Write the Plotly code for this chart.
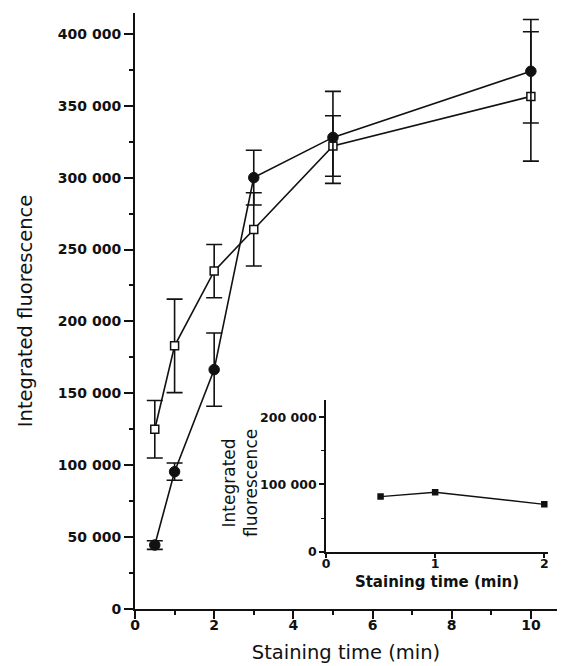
import plotly.graph_objects as go

# ---- data ----
times = [0.5, 1, 2, 3, 5, 10]
filled_vals = [44500, 95500, 166500, 300000, 328000, 374000]
filled_err = [3000, 6000, 25500, 19000, 32000, 36000]
open_vals = [125000, 183000, 235000, 264000, 322000, 356500]
open_err = [20000, 32500, 18500, 25500, 21000, 45000]

inset_times = [0.5, 1, 2]
inset_vals = [82000, 88500, 70500]

y_tickvals = [0, 50000, 100000, 150000, 200000, 250000, 300000, 350000, 400000]
y_ticktext = ["0", "50 000", "100 000", "150 000", "200 000", "250 000", "300 000", "350 000", "400 000"]
x_tickvals = [0, 2, 4, 6, 8, 10]
inset_y_tickvals = [0, 100000, 200000]
inset_y_ticktext = ["0", "100 000", "200 000"]
inset_x_tickvals = [0, 1, 2]

FONT = "DejaVu Sans, Liberation Sans, Arial, sans-serif"
BLACK = "#111111"

fig = go.Figure()

fig.add_trace(go.Scatter(
    x=times, y=open_vals, mode="lines+markers",
    line=dict(color=BLACK, width=1.6),
    marker=dict(symbol="square", size=8, color="white", line=dict(color=BLACK, width=1.5)),
    error_y=dict(type="data", array=open_err, visible=True, color=BLACK, thickness=1.6, width=8),
    showlegend=False, xaxis="x", yaxis="y"))

fig.add_trace(go.Scatter(
    x=times, y=filled_vals, mode="lines+markers",
    line=dict(color=BLACK, width=1.6),
    marker=dict(symbol="circle", size=10.5, color=BLACK, line=dict(color=BLACK, width=1)),
    error_y=dict(type="data", array=filled_err, visible=True, color=BLACK, thickness=1.6, width=8),
    showlegend=False, xaxis="x", yaxis="y"))

fig.add_trace(go.Scatter(
    x=inset_times, y=inset_vals, mode="lines+markers",
    line=dict(color=BLACK, width=1.4),
    marker=dict(symbol="square", size=6.5, color=BLACK),
    showlegend=False, xaxis="x2", yaxis="y2"))

fig.update_layout(
    width=561, height=666,
    margin=dict(l=135, r=4, t=13, b=57),
    paper_bgcolor="white", plot_bgcolor="white",
    font=dict(family=FONT, color=BLACK),
    xaxis=dict(
        range=[0, 10.66], showgrid=False, zeroline=False,
        showline=True, linecolor=BLACK, linewidth=2,
        ticks="outside", ticklen=8, tickwidth=2, tickcolor=BLACK,
        tickvals=x_tickvals, ticktext=[str(v) for v in x_tickvals],
        tickfont=dict(family=FONT, size=14, color=BLACK, weight="bold"),
        ticklabelstandoff=-6,
        minor=dict(ticks="outside", ticklen=4, tickwidth=1.5, tickcolor=BLACK, dtick=1, showgrid=False),
        title=dict(text="Staining time (min)", font=dict(family=FONT, size=19.5, color=BLACK), standoff=14),
        automargin=False,
    ),
    yaxis=dict(
        range=[0, 414500], showgrid=False, zeroline=False,
        showline=True, linecolor=BLACK, linewidth=2,
        ticks="outside", ticklen=9, tickwidth=2, tickcolor=BLACK,
        tickvals=y_tickvals, ticktext=y_ticktext,
        tickfont=dict(family=FONT, size=14, color=BLACK, weight="bold"),
        minor=dict(ticks="outside", ticklen=4, tickwidth=1.5, tickcolor=BLACK, dtick=25000, tick0=0, showgrid=False),
        title=dict(text="Integrated fluorescence", font=dict(family=FONT, size=19.5, color=BLACK), standoff=20),
        automargin=False,
    ),
    xaxis2=dict(
        domain=[0.4526, 0.9787], anchor="y2",
        range=[0, 2.034], showgrid=False, zeroline=False,
        showline=True, linecolor=BLACK, linewidth=1.8,
        ticks="outside", ticklen=4, tickwidth=1.5, tickcolor=BLACK,
        tickvals=inset_x_tickvals, ticktext=[str(v) for v in inset_x_tickvals],
        tickfont=dict(family=FONT, size=12.5, color=BLACK, weight="bold"),
        ticklabelstandoff=-5,
        title=dict(text="Staining time (min)", font=dict(family=FONT, size=15, color=BLACK, weight="bold"), standoff=7),
        automargin=False,
    ),
    yaxis2=dict(
        domain=[0.0961, 0.3507], anchor="x2",
        range=[0, 225700], showgrid=False, zeroline=False,
        showline=True, linecolor=BLACK, linewidth=1.8,
        ticks="outside", ticklen=5, tickwidth=1.5, tickcolor=BLACK,
        tickvals=inset_y_tickvals, ticktext=inset_y_ticktext,
        tickfont=dict(family=FONT, size=12.5, color=BLACK, weight="bold"),
        minor=dict(ticks="outside", ticklen=3, tickwidth=1.2, tickcolor=BLACK, dtick=50000, tick0=0, showgrid=False),
        automargin=False,
    ),
    annotations=[dict(
        text="Integrated<br>fluorescence", textangle=-90,
        xref="paper", yref="paper", x=0.2488, y=0.2114,
        xanchor="center", yanchor="middle", showarrow=False,
        font=dict(family=FONT, size=17, color=BLACK),
    )],
)

fig.write_html(
    "out.html",
    config={"displayModeBar": False},
    post_script="document.body.style.margin='0';document.body.style.padding='0';",
)
